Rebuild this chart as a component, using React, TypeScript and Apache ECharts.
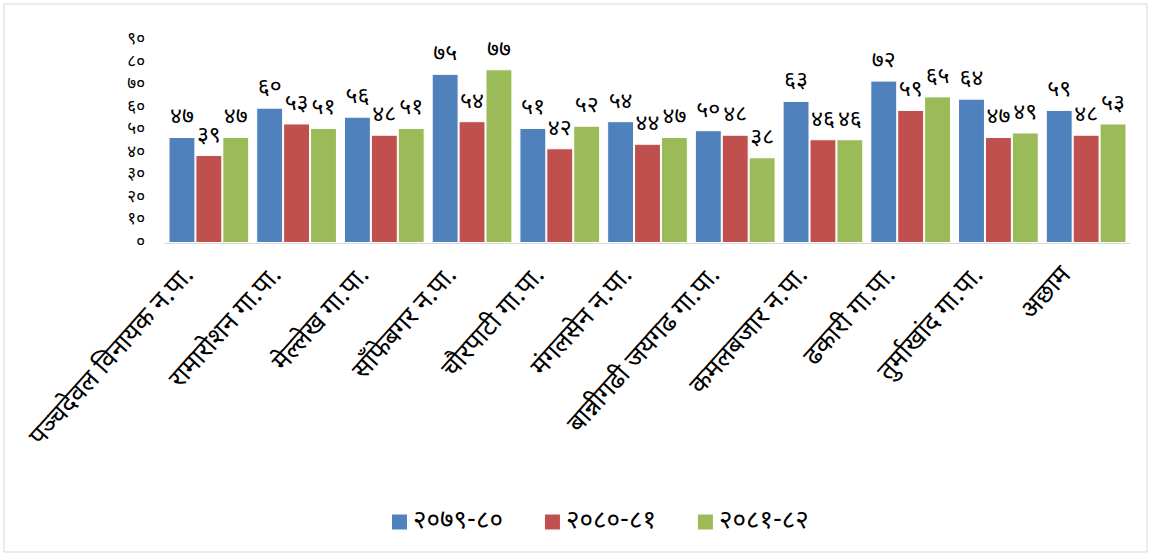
import React, { useEffect, useRef } from "react";
import * as echarts from "echarts";

const categories = [
  "पञ्चदेवल विनायक न.पा.",
  "रामारोशन गा.पा.",
  "मेल्लेख गा.पा.",
  "साँफेबगर न.पा.",
  "चौरपाटी गा.पा.",
  "मंगलसेन न.पा.",
  "बान्नीगढी जयगढ गा.पा.",
  "कमलबजार न.पा.",
  "ढकारी गा.पा.",
  "तुर्माखांद गा.पा.",
  "अछाम",
];
const seriesNames = ["२०७९-८०", "२०८०-८१", "२०८१-८२"];
const values2079 = [47, 60, 56, 75, 51, 54, 50, 63, 72, 64, 59];
const values2080 = [39, 53, 48, 54, 42, 44, 48, 46, 59, 47, 48];
const values2081 = [47, 51, 51, 77, 52, 47, 38, 46, 65, 49, 53];
const colors = ["#4f81bd", "#c0504d", "#9bbb59"];
const yMin = 0;
const yMax = 90;
const yInterval = 10;

const devDigits = ["०", "१", "२", "३", "४", "५", "६", "७", "८", "९"];
const toDev = (n: number | string) =>
  String(n).replace(/[0-9]/g, (d) => devDigits[Number(d)]);

export default function App() {
  const ref = useRef<HTMLDivElement>(null);
  useEffect(() => {
    if (!ref.current) return;
    const chart = echarts.init(ref.current, null, { renderer: "svg" });
    const font = "'Noto Sans Devanagari', 'Noto Sans', sans-serif";
    const data = [values2079, values2080, values2081];
    chart.setOption({
      animation: false,
      textStyle: { fontFamily: font },
      graphic: [
        {
          type: "rect",
          shape: { x: 4, y: 4, width: 1143, height: 548 },
          style: { fill: "none", stroke: "#d9d9d9", lineWidth: 1 },
          silent: true,
        },
      ],
      legend: {
        bottom: 16,
        left: 385,
        itemWidth: 17,
        itemHeight: 17,
        itemGap: 40,
        icon: "rect",
        textStyle: { fontSize: 26, color: "#000", fontFamily: font },
        data: seriesNames,
      },
      grid: { left: 165, right: 21, top: 40, bottom: 313 },
      xAxis: {
        type: "category",
        data: categories,
        axisLine: { show: true, lineStyle: { color: "#d9d9d9", width: 1 } },
        axisTick: { show: false },
        axisLabel: {
          rotate: 48,
          interval: 0,
          fontSize: 26,
          color: "#000",
          fontFamily: font,
          margin: 8,
          padding: [0, 28, 0, 0],
        },
      },
      yAxis: {
        type: "value",
        min: yMin,
        max: yMax,
        interval: yInterval,
        splitLine: { show: false },
        axisLine: { show: false },
        axisTick: { show: false },
        axisLabel: {
          fontSize: 17,
          lineHeight: 17,
          color: "#000",
          margin: 20,
          fontFamily: font,
          formatter: (v: number) => toDev(v),
        },
      },
      series: seriesNames.map((name, i) => ({
        name,
        type: "bar",
        data: data[i],
        barGap: "0%",
        barCategoryGap: "8%",
        itemStyle: { color: colors[i], borderColor: "#fff", borderWidth: 1 },
        label: {
          show: true,
          position: "top",
          distance: 8,
          fontSize: 23,
          color: "#000",
          fontFamily: font,
          formatter: (p: any) => toDev(p.value),
        },
      })),
    });
    return () => chart.dispose();
  }, []);
  return (
    <div
      ref={ref}
      style={{ position: "fixed", left: 0, top: 0, width: 1151, height: 556, background: "#fff" }}
    />
  );
}
